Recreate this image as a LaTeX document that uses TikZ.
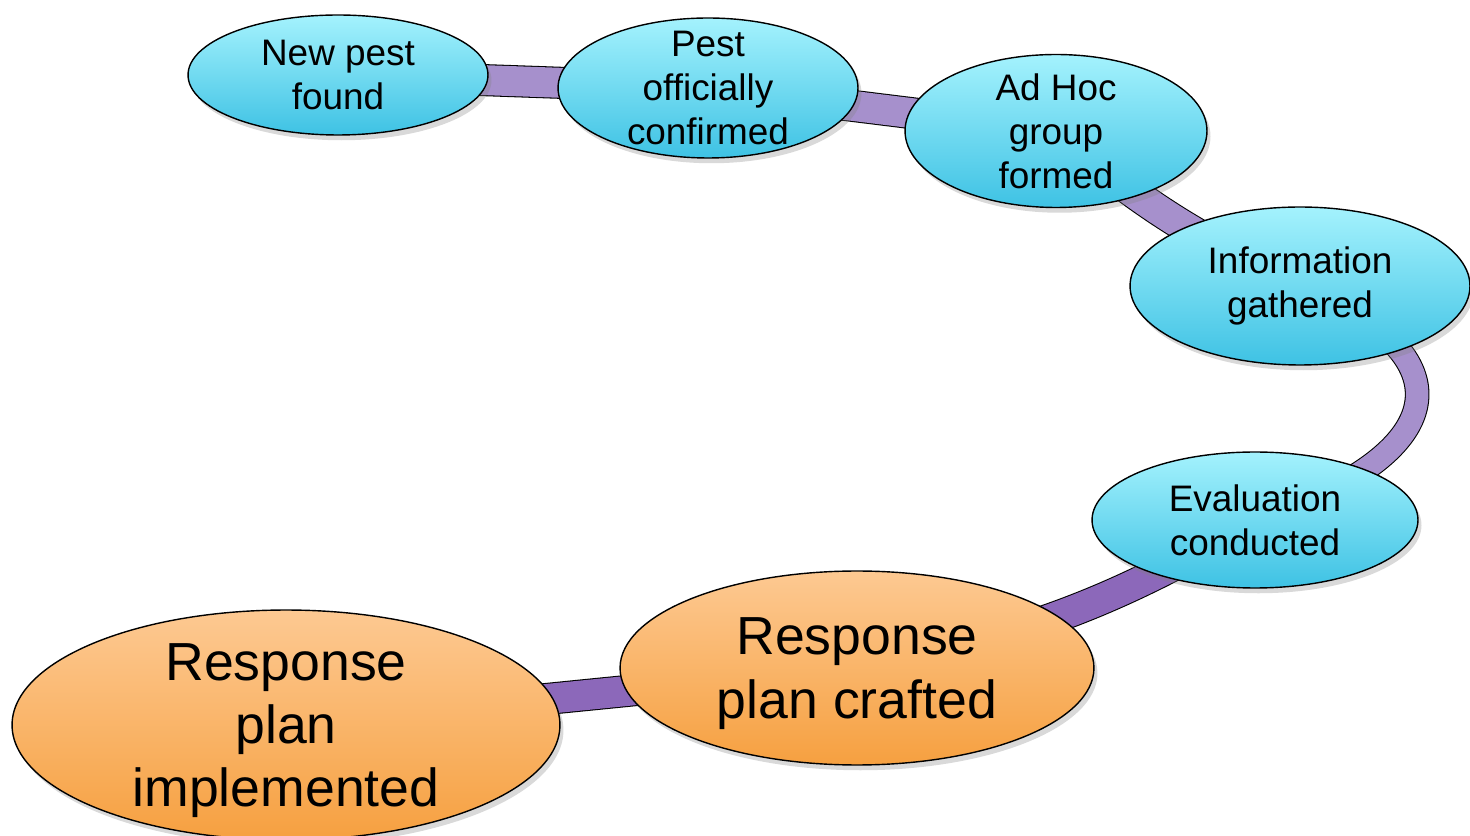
\documentclass[tikz,border=0pt]{standalone}
\usepackage{fontspec}
\setmainfont{Liberation Sans}
\usepackage{tikz}
\usetikzlibrary{shapes,shadows,backgrounds}

\definecolor{bluetop}{HTML}{A4F2FD}
\definecolor{bluebot}{HTML}{3EC2E4}
\definecolor{orangetop}{HTML}{FDC992}
\definecolor{orangebot}{HTML}{F6A040}
\definecolor{lilac}{HTML}{A690CC}
\definecolor{violet}{HTML}{8C68BA}

\begin{document}
\begin{tikzpicture}[x=0.02cm,y=0.02cm,
  stage/.style={ellipse, draw=black, line width=0.8pt, inner sep=-2cm, align=center,
    drop shadow={shadow xshift=2pt, shadow yshift=-3pt, opacity=0.3}},
  early/.style={stage, top color=bluetop, bottom color=bluebot, font=\fontsize{21}{25}\selectfont},
  late/.style={stage, top color=orangetop, bottom color=orangebot, font=\fontsize{30.5}{36}\selectfont, text depth=-1.5pt},
  band/.style={draw=black, line width=0.6pt, double=#1, double distance=0.6cm}
]
\useasboundingbox (0,0) rectangle (1470,835);

\node[early, minimum width=6cm, minimum height=2.4cm] (found) at (338,760) {New pest\\found};
\node[early, minimum width=6cm, minimum height=2.8cm] (confirmed) at (708,747) {Pest\\officially\\confirmed};
\node[early, minimum width=6.04cm, minimum height=3.06cm] (adhoc) at (1056,704) {Ad Hoc\\group\\formed};
\node[early, minimum width=6.8cm, minimum height=3.16cm] (info) at (1300,549) {Information\\gathered};
\node[early, minimum width=6.52cm, minimum height=2.72cm] (eval) at (1255,315) {Evaluation\\conducted};
\node[late, minimum width=9.48cm, minimum height=3.88cm] (crafted) at (857,167) {Response\\plan crafted};
\node[late, minimum width=10.96cm, minimum height=4.6cm] (implemented) at (286,110) {Response\\plan\\implemented};

\begin{scope}[on background layer]
\draw[band=lilac] (found.center) -- (confirmed.center);
\draw[band=lilac] (confirmed.center) -- (adhoc.center);
\draw[band=lilac] (adhoc.center) to[bend right=8] (info.center);
\draw[band=lilac, double distance=0.45cm] (info.center) .. controls (1470,480) and (1455,380) .. (eval.center);
\draw[band=violet] (eval.center) to[bend left=10] (crafted.center);
\draw[band=violet] (crafted.center) -- (implemented.center);
\end{scope}
\end{tikzpicture}
\end{document}
